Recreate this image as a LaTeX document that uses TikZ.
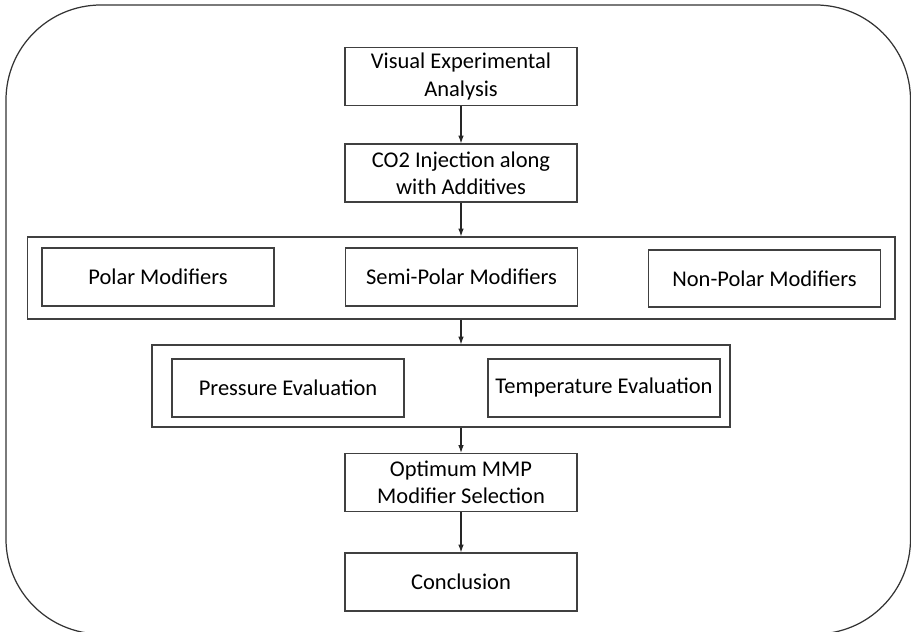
\documentclass[tikz,border=0pt]{standalone}
\usepackage{fontspec}
\setmainfont{Carlito}
\usetikzlibrary{arrows.meta}

\begin{document}
\begin{tikzpicture}[x=0.02cm, y=-0.02cm,
    stepbox/.style={draw=black!75, line width=0.65pt, align=center,
      minimum width=4.64cm, minimum height=1.16cm, inner sep=2pt,
      font=\fontsize{12.8}{15.5}\selectfont},
    groupbox/.style={draw=black!75, line width=0.65pt, minimum height=1.64cm},
    flow/.style={-{Latex[length=4.5pt,width=3.2pt]}, line width=0.6pt, black!85}]
  % Frame and page size
  \useasboundingbox (0,0) rectangle (911,631);
  \begin{scope}
    \clip (0,0) rectangle (911,631);
    \draw[line width=0.7pt, black!80, rounded corners=1.9cm] (6,5) rectangle (910.5,634);
  \end{scope}

  % Group frames
  \node[groupbox, minimum width=17.36cm] (modgroup) at (461,278) {};
  \node[groupbox, minimum width=11.56cm] (evalgroup) at (441,386) {};

  % Main steps
  \node[stepbox] (visual) at (461,76.5) {Visual Experimental\\Analysis};
  \node[stepbox] (inject) at (461,173) {CO2 Injection along\\with Additives};
  \node[stepbox] (optimum) at (461,482.5) {Optimum MMP\\Modifier Selection};
  \node[stepbox] (conclusion) at (461,582) {Conclusion};

  % Modifier types
  \node[stepbox] (polar) at (158,277) {Polar Modifiers};
  \node[stepbox] (semipolar) at (461.5,277) {Semi-Polar Modifiers};
  \node[stepbox, minimum height=1.14cm] (nonpolar) at (764.5,278.5) {Non-Polar Modifiers};

  % Evaluations
  \node[stepbox] (pressure) at (288,388) {Pressure Evaluation};
  \node[stepbox] (temperature) at (604,388) {Temperature Evaluation};

  % Connectors
  \draw[flow] (visual) -- (inject);
  \draw[flow] (inject) -- (inject |- modgroup.north);
  \draw[flow] (inject |- modgroup.south) -- (inject |- evalgroup.north);
  \draw[flow] (optimum |- evalgroup.south) -- (optimum);
  \draw[flow] (optimum) -- (conclusion);
\end{tikzpicture}
\end{document}
